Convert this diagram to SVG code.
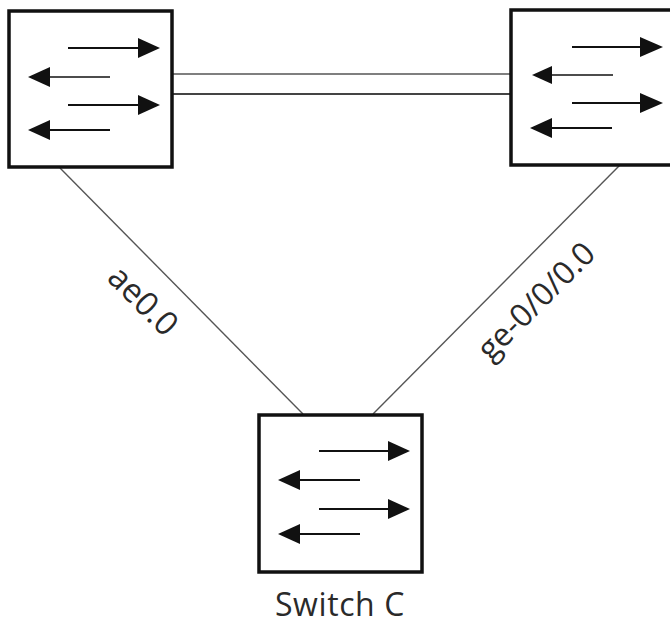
<svg xmlns="http://www.w3.org/2000/svg" width="670" height="626" viewBox="0 0 670 626">
<style>
.box{fill:#fff;stroke:#111;stroke-width:3.5}
.al{stroke:#111;stroke-width:2.2}
.ah{fill:#111}
.conn{stroke:#555;stroke-width:1.4;fill:none}
.lbl{font-family:"Open Sans","Noto Sans",sans-serif;fill:#2a2a2a}
</style>
<rect width="670" height="626" fill="#fff"/>
<g id="connectors">
<line class="conn" x1="173" y1="74" x2="510" y2="74" stroke="#888" stroke-width="1.2"/>
<line class="conn" x1="173" y1="94" x2="510" y2="94" style="stroke:#444;stroke-width:2"/>
<line class="conn" x1="60" y1="168" x2="303" y2="414"/>
<line class="conn" x1="620" y1="165" x2="373" y2="414"/>
<text class="lbl" font-size="33" text-anchor="middle" transform="translate(143,301) rotate(45)" y="11">ae0.0</text>
<text class="lbl" font-size="32" text-anchor="middle" transform="translate(536,301) rotate(-45)" y="11">ge-0/0/0.0</text>
</g>
<g id="switchA">
<rect class="box" x="9" y="11" width="163" height="156"/>
<line class="al" x1="68" y1="48" x2="140" y2="48"/><polygon class="ah" points="138,38 160,48 138,58"/>
<line class="al" x1="48" y1="77" x2="110" y2="77" style="stroke-width:1.6"/><polygon class="ah" points="50,67 28,77 50,87"/>
<line class="al" x1="68" y1="105" x2="140" y2="105"/><polygon class="ah" points="138,95 160,105 138,115"/>
<line class="al" x1="48" y1="130" x2="110" y2="130"/><polygon class="ah" points="50,120 28,130 50,140"/>
</g>
<g id="switchB">
<rect class="box" x="511" y="10" width="180" height="155"/>
<line class="al" x1="572" y1="47" x2="643" y2="47"/><polygon class="ah" points="640,37 663,47 640,57"/>
<line class="al" x1="550" y1="75" x2="613" y2="75" style="stroke-width:1.4"/><polygon class="ah" points="552,66 532,75 552,84"/>
<line class="al" x1="572" y1="103" x2="643" y2="103"/><polygon class="ah" points="640,93 663,103 640,113"/>
<line class="al" x1="550" y1="128" x2="612" y2="128"/><polygon class="ah" points="552,118 530,128 552,138"/>
</g>
<g id="switchC">
<rect class="box" x="259" y="415" width="163" height="157"/>
<line class="al" x1="319" y1="451" x2="390" y2="451"/><polygon class="ah" points="388,441 410,451 388,461"/>
<line class="al" x1="298" y1="480" x2="360" y2="480"/><polygon class="ah" points="300,470 278,480 300,490"/>
<line class="al" x1="319" y1="509" x2="390" y2="509"/><polygon class="ah" points="388,499 410,509 388,519"/>
<line class="al" x1="298" y1="534" x2="360" y2="534"/><polygon class="ah" points="300,524 278,534 300,544"/>
<text class="lbl" font-size="32" letter-spacing="0.6" text-anchor="middle" x="340" y="616">Switch C</text>
</g>
</svg>
